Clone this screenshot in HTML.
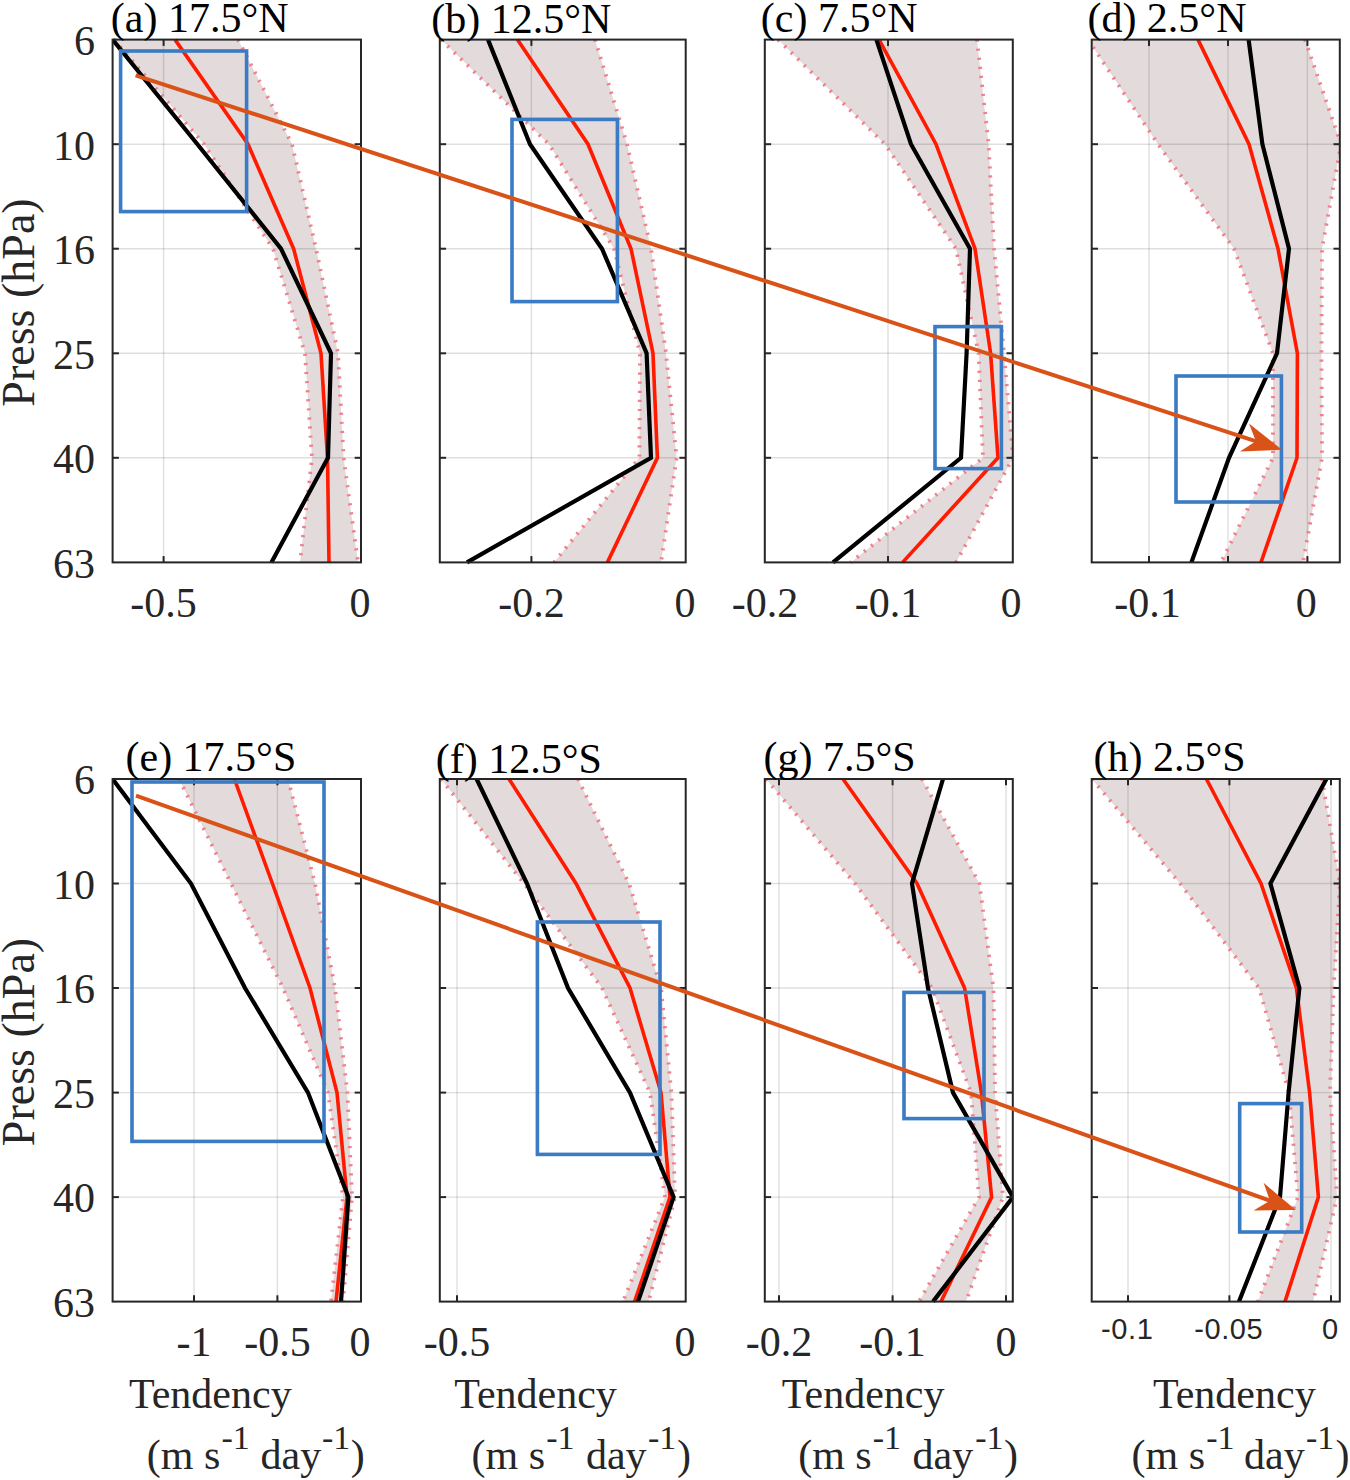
<!DOCTYPE html>
<html><head><meta charset="utf-8"><style>html,body{margin:0;padding:0;background:#fff;}svg{display:block;}</style></head><body>
<svg width="1350" height="1480" viewBox="0 0 1350 1480">
<rect width="1350" height="1480" fill="#fff"/>
<defs><clipPath id="ca"><rect x="112.1" y="36.6" width="249.4" height="528.8"/></clipPath><clipPath id="cb"><rect x="439.3" y="36.6" width="246.9" height="528.8"/></clipPath><clipPath id="cc"><rect x="764.3" y="36.6" width="249.0" height="528.8"/></clipPath><clipPath id="cd"><rect x="1091.2" y="36.6" width="249.1" height="528.8"/></clipPath><clipPath id="ce"><rect x="112.1" y="776.0" width="249.4" height="528.6"/></clipPath><clipPath id="cf"><rect x="439.3" y="776.0" width="246.9" height="528.6"/></clipPath><clipPath id="cg"><rect x="764.3" y="776.0" width="249.0" height="528.6"/></clipPath><clipPath id="ch"><rect x="1091.2" y="776.0" width="249.1" height="528.6"/></clipPath></defs>
<g clip-path="url(#ca)">
<polygon fill="#e2dadb" points="114.0,39.6 204.0,144.2 273.0,248.7 305.0,353.3 312.0,457.8 300.0,562.4 358.0,562.4 343.6,457.8 338.0,353.3 316.0,248.7 292.0,144.2 238.0,39.6"/>
<line x1="163.6" y1="39.6" x2="163.6" y2="562.4" stroke="rgba(38,38,38,0.15)" stroke-width="1.4"/>
<line x1="361.0" y1="39.6" x2="361.0" y2="562.4" stroke="rgba(38,38,38,0.15)" stroke-width="1.4"/>
<line x1="112.6" y1="144.2" x2="361.0" y2="144.2" stroke="rgba(38,38,38,0.15)" stroke-width="1.4"/>
<line x1="112.6" y1="248.7" x2="361.0" y2="248.7" stroke="rgba(38,38,38,0.15)" stroke-width="1.4"/>
<line x1="112.6" y1="353.3" x2="361.0" y2="353.3" stroke="rgba(38,38,38,0.15)" stroke-width="1.4"/>
<line x1="112.6" y1="457.8" x2="361.0" y2="457.8" stroke="rgba(38,38,38,0.15)" stroke-width="1.4"/>
<polyline fill="none" stroke="#f2808a" stroke-width="3.8" stroke-dasharray="2.2 6.9" points="114.0,39.6 204.0,144.2 273.0,248.7 305.0,353.3 312.0,457.8 300.0,562.4"/>
<polyline fill="none" stroke="#f2808a" stroke-width="3.8" stroke-dasharray="2.2 6.9" points="238.0,39.6 292.0,144.2 316.0,248.7 338.0,353.3 343.6,457.8 358.0,562.4"/>
<polyline fill="none" stroke="#ff1a00" stroke-width="3.6" stroke-linejoin="miter" points="175.0,39.6 248.0,144.2 293.6,248.7 321.0,353.3 327.5,457.8 329.0,562.4"/>
<polyline fill="none" stroke="#000" stroke-width="4.2" stroke-linejoin="miter" points="112.6,39.6 197.4,144.2 281.0,248.7 331.0,353.3 328.0,457.8 271.4,562.4"/>
</g>
<rect x="112.6" y="39.6" width="248.4" height="522.8" fill="none" stroke="#262626" stroke-width="2"/>
<line x1="112.6" y1="144.2" x2="118.9" y2="144.2" stroke="#262626" stroke-width="2"/>
<line x1="361.0" y1="144.2" x2="354.7" y2="144.2" stroke="#262626" stroke-width="2"/>
<line x1="112.6" y1="248.7" x2="118.9" y2="248.7" stroke="#262626" stroke-width="2"/>
<line x1="361.0" y1="248.7" x2="354.7" y2="248.7" stroke="#262626" stroke-width="2"/>
<line x1="112.6" y1="353.3" x2="118.9" y2="353.3" stroke="#262626" stroke-width="2"/>
<line x1="361.0" y1="353.3" x2="354.7" y2="353.3" stroke="#262626" stroke-width="2"/>
<line x1="112.6" y1="457.8" x2="118.9" y2="457.8" stroke="#262626" stroke-width="2"/>
<line x1="361.0" y1="457.8" x2="354.7" y2="457.8" stroke="#262626" stroke-width="2"/>
<line x1="163.6" y1="39.6" x2="163.6" y2="45.9" stroke="#262626" stroke-width="2"/>
<line x1="163.6" y1="562.4" x2="163.6" y2="556.1" stroke="#262626" stroke-width="2"/>
<rect x="120.6" y="51.0" width="126.0" height="160.6" fill="none" stroke="#3a7bc4" stroke-width="3.6"/>
<text x="163.6" y="616.7" font-family="Liberation Serif, serif" font-size="42" text-anchor="middle" fill="#262626">-0.5</text>
<text x="360.0" y="616.7" font-family="Liberation Serif, serif" font-size="42" text-anchor="middle" fill="#262626">0</text>
<g clip-path="url(#cb)">
<polygon fill="#e2dadb" points="441.0,39.6 549.0,144.2 614.0,248.7 640.0,353.3 639.4,457.8 554.0,562.4 661.0,562.4 676.6,457.8 666.0,353.3 651.0,248.7 627.0,144.2 595.0,39.6"/>
<line x1="531.4" y1="39.6" x2="531.4" y2="562.4" stroke="rgba(38,38,38,0.15)" stroke-width="1.4"/>
<line x1="685.7" y1="39.6" x2="685.7" y2="562.4" stroke="rgba(38,38,38,0.15)" stroke-width="1.4"/>
<line x1="439.8" y1="144.2" x2="685.7" y2="144.2" stroke="rgba(38,38,38,0.15)" stroke-width="1.4"/>
<line x1="439.8" y1="248.7" x2="685.7" y2="248.7" stroke="rgba(38,38,38,0.15)" stroke-width="1.4"/>
<line x1="439.8" y1="353.3" x2="685.7" y2="353.3" stroke="rgba(38,38,38,0.15)" stroke-width="1.4"/>
<line x1="439.8" y1="457.8" x2="685.7" y2="457.8" stroke="rgba(38,38,38,0.15)" stroke-width="1.4"/>
<polyline fill="none" stroke="#f2808a" stroke-width="3.8" stroke-dasharray="2.2 6.9" points="441.0,39.6 549.0,144.2 614.0,248.7 640.0,353.3 639.4,457.8 554.0,562.4"/>
<polyline fill="none" stroke="#f2808a" stroke-width="3.8" stroke-dasharray="2.2 6.9" points="595.0,39.6 627.0,144.2 651.0,248.7 666.0,353.3 676.6,457.8 661.0,562.4"/>
<polyline fill="none" stroke="#ff1a00" stroke-width="3.6" stroke-linejoin="miter" points="517.4,39.6 588.0,144.2 631.0,248.7 653.0,353.3 657.4,457.8 607.4,562.4"/>
<polyline fill="none" stroke="#000" stroke-width="4.2" stroke-linejoin="miter" points="488.0,39.6 530.0,144.2 602.0,248.7 646.6,353.3 651.0,457.8 467.0,562.4"/>
</g>
<rect x="439.8" y="39.6" width="245.9" height="522.8" fill="none" stroke="#262626" stroke-width="2"/>
<line x1="439.8" y1="144.2" x2="446.1" y2="144.2" stroke="#262626" stroke-width="2"/>
<line x1="685.7" y1="144.2" x2="679.4" y2="144.2" stroke="#262626" stroke-width="2"/>
<line x1="439.8" y1="248.7" x2="446.1" y2="248.7" stroke="#262626" stroke-width="2"/>
<line x1="685.7" y1="248.7" x2="679.4" y2="248.7" stroke="#262626" stroke-width="2"/>
<line x1="439.8" y1="353.3" x2="446.1" y2="353.3" stroke="#262626" stroke-width="2"/>
<line x1="685.7" y1="353.3" x2="679.4" y2="353.3" stroke="#262626" stroke-width="2"/>
<line x1="439.8" y1="457.8" x2="446.1" y2="457.8" stroke="#262626" stroke-width="2"/>
<line x1="685.7" y1="457.8" x2="679.4" y2="457.8" stroke="#262626" stroke-width="2"/>
<line x1="531.4" y1="39.6" x2="531.4" y2="45.9" stroke="#262626" stroke-width="2"/>
<line x1="531.4" y1="562.4" x2="531.4" y2="556.1" stroke="#262626" stroke-width="2"/>
<rect x="512" y="119.4" width="105.4" height="182.2" fill="none" stroke="#3a7bc4" stroke-width="3.6"/>
<text x="531.4" y="616.7" font-family="Liberation Serif, serif" font-size="42" text-anchor="middle" fill="#262626">-0.2</text>
<text x="685.0" y="616.7" font-family="Liberation Serif, serif" font-size="42" text-anchor="middle" fill="#262626">0</text>
<g clip-path="url(#cc)">
<polygon fill="#e2dadb" points="778.0,39.6 885.0,144.2 956.0,248.7 978.6,353.3 983.0,457.8 850.6,562.4 956.0,562.4 1013.0,457.8 1004.0,353.3 994.0,248.7 988.6,144.2 977.0,39.6"/>
<line x1="764.8" y1="39.6" x2="764.8" y2="562.4" stroke="rgba(38,38,38,0.15)" stroke-width="1.4"/>
<line x1="888" y1="39.6" x2="888" y2="562.4" stroke="rgba(38,38,38,0.15)" stroke-width="1.4"/>
<line x1="1012.8" y1="39.6" x2="1012.8" y2="562.4" stroke="rgba(38,38,38,0.15)" stroke-width="1.4"/>
<line x1="764.8" y1="144.2" x2="1012.8" y2="144.2" stroke="rgba(38,38,38,0.15)" stroke-width="1.4"/>
<line x1="764.8" y1="248.7" x2="1012.8" y2="248.7" stroke="rgba(38,38,38,0.15)" stroke-width="1.4"/>
<line x1="764.8" y1="353.3" x2="1012.8" y2="353.3" stroke="rgba(38,38,38,0.15)" stroke-width="1.4"/>
<line x1="764.8" y1="457.8" x2="1012.8" y2="457.8" stroke="rgba(38,38,38,0.15)" stroke-width="1.4"/>
<polyline fill="none" stroke="#f2808a" stroke-width="3.8" stroke-dasharray="2.2 6.9" points="778.0,39.6 885.0,144.2 956.0,248.7 978.6,353.3 983.0,457.8 850.6,562.4"/>
<polyline fill="none" stroke="#f2808a" stroke-width="3.8" stroke-dasharray="2.2 6.9" points="977.0,39.6 988.6,144.2 994.0,248.7 1004.0,353.3 1013.0,457.8 956.0,562.4"/>
<polyline fill="none" stroke="#ff1a00" stroke-width="3.6" stroke-linejoin="miter" points="879.0,39.6 936.0,144.2 975.0,248.7 990.6,353.3 998.0,457.8 902.6,562.4"/>
<polyline fill="none" stroke="#000" stroke-width="4.2" stroke-linejoin="miter" points="876.4,39.6 911.0,144.2 970.0,248.7 966.6,353.3 961.0,457.8 833.0,562.4"/>
</g>
<rect x="764.8" y="39.6" width="248.0" height="522.8" fill="none" stroke="#262626" stroke-width="2"/>
<line x1="764.8" y1="144.2" x2="771.1" y2="144.2" stroke="#262626" stroke-width="2"/>
<line x1="1012.8" y1="144.2" x2="1006.5" y2="144.2" stroke="#262626" stroke-width="2"/>
<line x1="764.8" y1="248.7" x2="771.1" y2="248.7" stroke="#262626" stroke-width="2"/>
<line x1="1012.8" y1="248.7" x2="1006.5" y2="248.7" stroke="#262626" stroke-width="2"/>
<line x1="764.8" y1="353.3" x2="771.1" y2="353.3" stroke="#262626" stroke-width="2"/>
<line x1="1012.8" y1="353.3" x2="1006.5" y2="353.3" stroke="#262626" stroke-width="2"/>
<line x1="764.8" y1="457.8" x2="771.1" y2="457.8" stroke="#262626" stroke-width="2"/>
<line x1="1012.8" y1="457.8" x2="1006.5" y2="457.8" stroke="#262626" stroke-width="2"/>
<line x1="888" y1="39.6" x2="888" y2="45.9" stroke="#262626" stroke-width="2"/>
<line x1="888" y1="562.4" x2="888" y2="556.1" stroke="#262626" stroke-width="2"/>
<rect x="935" y="326.6" width="66.4" height="142.0" fill="none" stroke="#3a7bc4" stroke-width="3.6"/>
<text x="765" y="616.7" font-family="Liberation Serif, serif" font-size="42" text-anchor="middle" fill="#262626">-0.2</text>
<text x="888" y="616.7" font-family="Liberation Serif, serif" font-size="42" text-anchor="middle" fill="#262626">-0.1</text>
<text x="1011" y="616.7" font-family="Liberation Serif, serif" font-size="42" text-anchor="middle" fill="#262626">0</text>
<g clip-path="url(#cd)">
<polygon fill="#e2dadb" points="1088.0,39.6 1158.0,144.2 1234.0,248.7 1273.0,353.3 1273.0,457.8 1221.0,562.4 1303.0,562.4 1322.0,457.8 1321.4,353.3 1322.0,248.7 1341.0,144.2 1305.0,39.6"/>
<line x1="1149" y1="39.6" x2="1149" y2="562.4" stroke="rgba(38,38,38,0.15)" stroke-width="1.4"/>
<line x1="1228" y1="39.6" x2="1228" y2="562.4" stroke="rgba(38,38,38,0.15)" stroke-width="1.4"/>
<line x1="1307.4" y1="39.6" x2="1307.4" y2="562.4" stroke="rgba(38,38,38,0.15)" stroke-width="1.4"/>
<line x1="1091.7" y1="144.2" x2="1339.8" y2="144.2" stroke="rgba(38,38,38,0.15)" stroke-width="1.4"/>
<line x1="1091.7" y1="248.7" x2="1339.8" y2="248.7" stroke="rgba(38,38,38,0.15)" stroke-width="1.4"/>
<line x1="1091.7" y1="353.3" x2="1339.8" y2="353.3" stroke="rgba(38,38,38,0.15)" stroke-width="1.4"/>
<line x1="1091.7" y1="457.8" x2="1339.8" y2="457.8" stroke="rgba(38,38,38,0.15)" stroke-width="1.4"/>
<polyline fill="none" stroke="#f2808a" stroke-width="3.8" stroke-dasharray="2.2 6.9" points="1088.0,39.6 1158.0,144.2 1234.0,248.7 1273.0,353.3 1273.0,457.8 1221.0,562.4"/>
<polyline fill="none" stroke="#f2808a" stroke-width="3.8" stroke-dasharray="2.2 6.9" points="1305.0,39.6 1341.0,144.2 1322.0,248.7 1321.4,353.3 1322.0,457.8 1303.0,562.4"/>
<polyline fill="none" stroke="#ff1a00" stroke-width="3.6" stroke-linejoin="miter" points="1198.0,39.6 1249.0,144.2 1278.0,248.7 1297.4,353.3 1297.0,457.8 1261.0,562.4"/>
<polyline fill="none" stroke="#000" stroke-width="4.2" stroke-linejoin="miter" points="1248.6,39.6 1262.4,144.2 1289.0,248.7 1277.0,353.3 1229.0,457.8 1191.4,562.4"/>
</g>
<rect x="1091.7" y="39.6" width="248.1" height="522.8" fill="none" stroke="#262626" stroke-width="2"/>
<line x1="1091.7" y1="144.2" x2="1098.0" y2="144.2" stroke="#262626" stroke-width="2"/>
<line x1="1339.8" y1="144.2" x2="1333.5" y2="144.2" stroke="#262626" stroke-width="2"/>
<line x1="1091.7" y1="248.7" x2="1098.0" y2="248.7" stroke="#262626" stroke-width="2"/>
<line x1="1339.8" y1="248.7" x2="1333.5" y2="248.7" stroke="#262626" stroke-width="2"/>
<line x1="1091.7" y1="353.3" x2="1098.0" y2="353.3" stroke="#262626" stroke-width="2"/>
<line x1="1339.8" y1="353.3" x2="1333.5" y2="353.3" stroke="#262626" stroke-width="2"/>
<line x1="1091.7" y1="457.8" x2="1098.0" y2="457.8" stroke="#262626" stroke-width="2"/>
<line x1="1339.8" y1="457.8" x2="1333.5" y2="457.8" stroke="#262626" stroke-width="2"/>
<line x1="1149" y1="39.6" x2="1149" y2="45.9" stroke="#262626" stroke-width="2"/>
<line x1="1149" y1="562.4" x2="1149" y2="556.1" stroke="#262626" stroke-width="2"/>
<line x1="1228" y1="39.6" x2="1228" y2="45.9" stroke="#262626" stroke-width="2"/>
<line x1="1228" y1="562.4" x2="1228" y2="556.1" stroke="#262626" stroke-width="2"/>
<line x1="1307.4" y1="39.6" x2="1307.4" y2="45.9" stroke="#262626" stroke-width="2"/>
<line x1="1307.4" y1="562.4" x2="1307.4" y2="556.1" stroke="#262626" stroke-width="2"/>
<rect x="1176" y="376" width="105.4" height="126.0" fill="none" stroke="#3a7bc4" stroke-width="3.6"/>
<text x="1147.5" y="616.7" font-family="Liberation Serif, serif" font-size="42" text-anchor="middle" fill="#262626">-0.1</text>
<text x="1306.2" y="616.7" font-family="Liberation Serif, serif" font-size="42" text-anchor="middle" fill="#262626">0</text>
<g clip-path="url(#ce)">
<polygon fill="#e2dadb" points="179.0,779.0 231.0,883.5 283.0,988.0 328.0,1092.6 343.0,1197.1 331.0,1301.6 343.0,1301.6 352.0,1197.1 347.4,1092.6 335.0,988.0 315.0,883.5 288.0,779.0"/>
<line x1="194" y1="779.0" x2="194" y2="1301.6" stroke="rgba(38,38,38,0.15)" stroke-width="1.4"/>
<line x1="277.4" y1="779.0" x2="277.4" y2="1301.6" stroke="rgba(38,38,38,0.15)" stroke-width="1.4"/>
<line x1="361.0" y1="779.0" x2="361.0" y2="1301.6" stroke="rgba(38,38,38,0.15)" stroke-width="1.4"/>
<line x1="112.6" y1="883.5" x2="361.0" y2="883.5" stroke="rgba(38,38,38,0.15)" stroke-width="1.4"/>
<line x1="112.6" y1="988.0" x2="361.0" y2="988.0" stroke="rgba(38,38,38,0.15)" stroke-width="1.4"/>
<line x1="112.6" y1="1092.6" x2="361.0" y2="1092.6" stroke="rgba(38,38,38,0.15)" stroke-width="1.4"/>
<line x1="112.6" y1="1197.1" x2="361.0" y2="1197.1" stroke="rgba(38,38,38,0.15)" stroke-width="1.4"/>
<polyline fill="none" stroke="#f2808a" stroke-width="3.8" stroke-dasharray="2.2 6.9" points="179.0,779.0 231.0,883.5 283.0,988.0 328.0,1092.6 343.0,1197.1 331.0,1301.6"/>
<polyline fill="none" stroke="#f2808a" stroke-width="3.8" stroke-dasharray="2.2 6.9" points="288.0,779.0 315.0,883.5 335.0,988.0 347.4,1092.6 352.0,1197.1 343.0,1301.6"/>
<polyline fill="none" stroke="#ff1a00" stroke-width="3.6" stroke-linejoin="miter" points="234.4,779.0 272.4,883.5 310.0,988.0 337.0,1092.6 347.0,1197.1 336.0,1301.6"/>
<polyline fill="none" stroke="#000" stroke-width="4.2" stroke-linejoin="miter" points="112.6,779.0 191.0,883.5 245.0,988.0 308.0,1092.6 348.4,1197.1 341.0,1301.6"/>
</g>
<rect x="112.6" y="779.0" width="248.4" height="522.6" fill="none" stroke="#262626" stroke-width="2"/>
<line x1="112.6" y1="883.5" x2="118.9" y2="883.5" stroke="#262626" stroke-width="2"/>
<line x1="361.0" y1="883.5" x2="354.7" y2="883.5" stroke="#262626" stroke-width="2"/>
<line x1="112.6" y1="988.0" x2="118.9" y2="988.0" stroke="#262626" stroke-width="2"/>
<line x1="361.0" y1="988.0" x2="354.7" y2="988.0" stroke="#262626" stroke-width="2"/>
<line x1="112.6" y1="1092.6" x2="118.9" y2="1092.6" stroke="#262626" stroke-width="2"/>
<line x1="361.0" y1="1092.6" x2="354.7" y2="1092.6" stroke="#262626" stroke-width="2"/>
<line x1="112.6" y1="1197.1" x2="118.9" y2="1197.1" stroke="#262626" stroke-width="2"/>
<line x1="361.0" y1="1197.1" x2="354.7" y2="1197.1" stroke="#262626" stroke-width="2"/>
<line x1="194" y1="779.0" x2="194" y2="785.3" stroke="#262626" stroke-width="2"/>
<line x1="194" y1="1301.6" x2="194" y2="1295.3" stroke="#262626" stroke-width="2"/>
<line x1="277.4" y1="779.0" x2="277.4" y2="785.3" stroke="#262626" stroke-width="2"/>
<line x1="277.4" y1="1301.6" x2="277.4" y2="1295.3" stroke="#262626" stroke-width="2"/>
<rect x="132" y="782" width="192.0" height="359.4" fill="none" stroke="#3a7bc4" stroke-width="3.6"/>
<text x="194" y="1355.9" font-family="Liberation Serif, serif" font-size="42" text-anchor="middle" fill="#262626">-1</text>
<text x="277.4" y="1355.9" font-family="Liberation Serif, serif" font-size="42" text-anchor="middle" fill="#262626">-0.5</text>
<text x="360.0" y="1355.9" font-family="Liberation Serif, serif" font-size="42" text-anchor="middle" fill="#262626">0</text>
<g clip-path="url(#cf)">
<polygon fill="#e2dadb" points="441.0,779.0 524.0,883.5 602.0,988.0 650.0,1092.6 665.0,1197.1 623.0,1301.6 648.6,1301.6 675.0,1197.1 671.4,1092.6 661.0,988.0 629.0,883.5 578.0,779.0"/>
<line x1="457" y1="779.0" x2="457" y2="1301.6" stroke="rgba(38,38,38,0.15)" stroke-width="1.4"/>
<line x1="685.7" y1="779.0" x2="685.7" y2="1301.6" stroke="rgba(38,38,38,0.15)" stroke-width="1.4"/>
<line x1="439.8" y1="883.5" x2="685.7" y2="883.5" stroke="rgba(38,38,38,0.15)" stroke-width="1.4"/>
<line x1="439.8" y1="988.0" x2="685.7" y2="988.0" stroke="rgba(38,38,38,0.15)" stroke-width="1.4"/>
<line x1="439.8" y1="1092.6" x2="685.7" y2="1092.6" stroke="rgba(38,38,38,0.15)" stroke-width="1.4"/>
<line x1="439.8" y1="1197.1" x2="685.7" y2="1197.1" stroke="rgba(38,38,38,0.15)" stroke-width="1.4"/>
<polyline fill="none" stroke="#f2808a" stroke-width="3.8" stroke-dasharray="2.2 6.9" points="441.0,779.0 524.0,883.5 602.0,988.0 650.0,1092.6 665.0,1197.1 623.0,1301.6"/>
<polyline fill="none" stroke="#f2808a" stroke-width="3.8" stroke-dasharray="2.2 6.9" points="578.0,779.0 629.0,883.5 661.0,988.0 671.4,1092.6 675.0,1197.1 648.6,1301.6"/>
<polyline fill="none" stroke="#ff1a00" stroke-width="3.6" stroke-linejoin="miter" points="509.0,779.0 576.0,883.5 630.0,988.0 661.0,1092.6 670.0,1197.1 634.6,1301.6"/>
<polyline fill="none" stroke="#000" stroke-width="4.2" stroke-linejoin="miter" points="476.6,779.0 527.0,883.5 568.0,988.0 630.0,1092.6 673.6,1197.1 638.0,1301.6"/>
</g>
<rect x="439.8" y="779.0" width="245.9" height="522.6" fill="none" stroke="#262626" stroke-width="2"/>
<line x1="439.8" y1="883.5" x2="446.1" y2="883.5" stroke="#262626" stroke-width="2"/>
<line x1="685.7" y1="883.5" x2="679.4" y2="883.5" stroke="#262626" stroke-width="2"/>
<line x1="439.8" y1="988.0" x2="446.1" y2="988.0" stroke="#262626" stroke-width="2"/>
<line x1="685.7" y1="988.0" x2="679.4" y2="988.0" stroke="#262626" stroke-width="2"/>
<line x1="439.8" y1="1092.6" x2="446.1" y2="1092.6" stroke="#262626" stroke-width="2"/>
<line x1="685.7" y1="1092.6" x2="679.4" y2="1092.6" stroke="#262626" stroke-width="2"/>
<line x1="439.8" y1="1197.1" x2="446.1" y2="1197.1" stroke="#262626" stroke-width="2"/>
<line x1="685.7" y1="1197.1" x2="679.4" y2="1197.1" stroke="#262626" stroke-width="2"/>
<line x1="457" y1="779.0" x2="457" y2="785.3" stroke="#262626" stroke-width="2"/>
<line x1="457" y1="1301.6" x2="457" y2="1295.3" stroke="#262626" stroke-width="2"/>
<rect x="537.4" y="922" width="122.6" height="232.4" fill="none" stroke="#3a7bc4" stroke-width="3.6"/>
<text x="457" y="1355.9" font-family="Liberation Serif, serif" font-size="42" text-anchor="middle" fill="#262626">-0.5</text>
<text x="685.0" y="1355.9" font-family="Liberation Serif, serif" font-size="42" text-anchor="middle" fill="#262626">0</text>
<g clip-path="url(#cg)">
<polygon fill="#e2dadb" points="766.0,779.0 855.0,883.5 932.0,988.0 971.0,1092.6 979.0,1197.1 919.0,1301.6 966.0,1301.6 1003.0,1197.1 995.0,1092.6 993.4,988.0 979.4,883.5 922.0,779.0"/>
<line x1="779" y1="779.0" x2="779" y2="1301.6" stroke="rgba(38,38,38,0.15)" stroke-width="1.4"/>
<line x1="892.6" y1="779.0" x2="892.6" y2="1301.6" stroke="rgba(38,38,38,0.15)" stroke-width="1.4"/>
<line x1="1006" y1="779.0" x2="1006" y2="1301.6" stroke="rgba(38,38,38,0.15)" stroke-width="1.4"/>
<line x1="764.8" y1="883.5" x2="1012.8" y2="883.5" stroke="rgba(38,38,38,0.15)" stroke-width="1.4"/>
<line x1="764.8" y1="988.0" x2="1012.8" y2="988.0" stroke="rgba(38,38,38,0.15)" stroke-width="1.4"/>
<line x1="764.8" y1="1092.6" x2="1012.8" y2="1092.6" stroke="rgba(38,38,38,0.15)" stroke-width="1.4"/>
<line x1="764.8" y1="1197.1" x2="1012.8" y2="1197.1" stroke="rgba(38,38,38,0.15)" stroke-width="1.4"/>
<polyline fill="none" stroke="#f2808a" stroke-width="3.8" stroke-dasharray="2.2 6.9" points="766.0,779.0 855.0,883.5 932.0,988.0 971.0,1092.6 979.0,1197.1 919.0,1301.6"/>
<polyline fill="none" stroke="#f2808a" stroke-width="3.8" stroke-dasharray="2.2 6.9" points="922.0,779.0 979.4,883.5 993.4,988.0 995.0,1092.6 1003.0,1197.1 966.0,1301.6"/>
<polyline fill="none" stroke="#ff1a00" stroke-width="3.6" stroke-linejoin="miter" points="843.0,779.0 917.0,883.5 964.6,988.0 981.4,1092.6 991.6,1197.1 941.0,1301.6"/>
<polyline fill="none" stroke="#000" stroke-width="4.2" stroke-linejoin="miter" points="943.0,779.0 912.0,883.5 928.0,988.0 953.0,1092.6 1013.0,1197.1 933.0,1301.6"/>
</g>
<rect x="764.8" y="779.0" width="248.0" height="522.6" fill="none" stroke="#262626" stroke-width="2"/>
<line x1="764.8" y1="883.5" x2="771.1" y2="883.5" stroke="#262626" stroke-width="2"/>
<line x1="1012.8" y1="883.5" x2="1006.5" y2="883.5" stroke="#262626" stroke-width="2"/>
<line x1="764.8" y1="988.0" x2="771.1" y2="988.0" stroke="#262626" stroke-width="2"/>
<line x1="1012.8" y1="988.0" x2="1006.5" y2="988.0" stroke="#262626" stroke-width="2"/>
<line x1="764.8" y1="1092.6" x2="771.1" y2="1092.6" stroke="#262626" stroke-width="2"/>
<line x1="1012.8" y1="1092.6" x2="1006.5" y2="1092.6" stroke="#262626" stroke-width="2"/>
<line x1="764.8" y1="1197.1" x2="771.1" y2="1197.1" stroke="#262626" stroke-width="2"/>
<line x1="1012.8" y1="1197.1" x2="1006.5" y2="1197.1" stroke="#262626" stroke-width="2"/>
<line x1="779" y1="779.0" x2="779" y2="785.3" stroke="#262626" stroke-width="2"/>
<line x1="779" y1="1301.6" x2="779" y2="1295.3" stroke="#262626" stroke-width="2"/>
<line x1="892.6" y1="779.0" x2="892.6" y2="785.3" stroke="#262626" stroke-width="2"/>
<line x1="892.6" y1="1301.6" x2="892.6" y2="1295.3" stroke="#262626" stroke-width="2"/>
<line x1="1006" y1="779.0" x2="1006" y2="785.3" stroke="#262626" stroke-width="2"/>
<line x1="1006" y1="1301.6" x2="1006" y2="1295.3" stroke="#262626" stroke-width="2"/>
<rect x="904" y="992.4" width="80.0" height="126.2" fill="none" stroke="#3a7bc4" stroke-width="3.6"/>
<text x="779" y="1355.9" font-family="Liberation Serif, serif" font-size="42" text-anchor="middle" fill="#262626">-0.2</text>
<text x="892.6" y="1355.9" font-family="Liberation Serif, serif" font-size="42" text-anchor="middle" fill="#262626">-0.1</text>
<text x="1006" y="1355.9" font-family="Liberation Serif, serif" font-size="42" text-anchor="middle" fill="#262626">0</text>
<g clip-path="url(#ch)">
<polygon fill="#e2dadb" points="1092.0,779.0 1180.0,883.5 1259.0,988.0 1289.0,1092.6 1298.0,1197.1 1258.0,1301.6 1313.0,1301.6 1337.0,1197.1 1330.0,1092.6 1333.6,988.0 1340.0,883.5 1322.0,779.0"/>
<line x1="1128" y1="779.0" x2="1128" y2="1301.6" stroke="rgba(38,38,38,0.15)" stroke-width="1.4"/>
<line x1="1229.4" y1="779.0" x2="1229.4" y2="1301.6" stroke="rgba(38,38,38,0.15)" stroke-width="1.4"/>
<line x1="1331" y1="779.0" x2="1331" y2="1301.6" stroke="rgba(38,38,38,0.15)" stroke-width="1.4"/>
<line x1="1091.7" y1="883.5" x2="1339.8" y2="883.5" stroke="rgba(38,38,38,0.15)" stroke-width="1.4"/>
<line x1="1091.7" y1="988.0" x2="1339.8" y2="988.0" stroke="rgba(38,38,38,0.15)" stroke-width="1.4"/>
<line x1="1091.7" y1="1092.6" x2="1339.8" y2="1092.6" stroke="rgba(38,38,38,0.15)" stroke-width="1.4"/>
<line x1="1091.7" y1="1197.1" x2="1339.8" y2="1197.1" stroke="rgba(38,38,38,0.15)" stroke-width="1.4"/>
<polyline fill="none" stroke="#f2808a" stroke-width="3.8" stroke-dasharray="2.2 6.9" points="1092.0,779.0 1180.0,883.5 1259.0,988.0 1289.0,1092.6 1298.0,1197.1 1258.0,1301.6"/>
<polyline fill="none" stroke="#f2808a" stroke-width="3.8" stroke-dasharray="2.2 6.9" points="1322.0,779.0 1340.0,883.5 1333.6,988.0 1330.0,1092.6 1337.0,1197.1 1313.0,1301.6"/>
<polyline fill="none" stroke="#ff1a00" stroke-width="3.6" stroke-linejoin="miter" points="1206.4,779.0 1261.0,883.5 1296.4,988.0 1309.6,1092.6 1318.4,1197.1 1285.0,1301.6"/>
<polyline fill="none" stroke="#000" stroke-width="4.2" stroke-linejoin="miter" points="1326.4,779.0 1270.4,883.5 1299.4,988.0 1288.6,1092.6 1280.0,1197.1 1239.0,1301.6"/>
</g>
<rect x="1091.7" y="779.0" width="248.1" height="522.6" fill="none" stroke="#262626" stroke-width="2"/>
<line x1="1091.7" y1="883.5" x2="1098.0" y2="883.5" stroke="#262626" stroke-width="2"/>
<line x1="1339.8" y1="883.5" x2="1333.5" y2="883.5" stroke="#262626" stroke-width="2"/>
<line x1="1091.7" y1="988.0" x2="1098.0" y2="988.0" stroke="#262626" stroke-width="2"/>
<line x1="1339.8" y1="988.0" x2="1333.5" y2="988.0" stroke="#262626" stroke-width="2"/>
<line x1="1091.7" y1="1092.6" x2="1098.0" y2="1092.6" stroke="#262626" stroke-width="2"/>
<line x1="1339.8" y1="1092.6" x2="1333.5" y2="1092.6" stroke="#262626" stroke-width="2"/>
<line x1="1091.7" y1="1197.1" x2="1098.0" y2="1197.1" stroke="#262626" stroke-width="2"/>
<line x1="1339.8" y1="1197.1" x2="1333.5" y2="1197.1" stroke="#262626" stroke-width="2"/>
<line x1="1128" y1="779.0" x2="1128" y2="785.3" stroke="#262626" stroke-width="2"/>
<line x1="1128" y1="1301.6" x2="1128" y2="1295.3" stroke="#262626" stroke-width="2"/>
<line x1="1229.4" y1="779.0" x2="1229.4" y2="785.3" stroke="#262626" stroke-width="2"/>
<line x1="1229.4" y1="1301.6" x2="1229.4" y2="1295.3" stroke="#262626" stroke-width="2"/>
<line x1="1331" y1="779.0" x2="1331" y2="785.3" stroke="#262626" stroke-width="2"/>
<line x1="1331" y1="1301.6" x2="1331" y2="1295.3" stroke="#262626" stroke-width="2"/>
<rect x="1239.7" y="1103.6" width="62.0" height="128.4" fill="none" stroke="#3a7bc4" stroke-width="3.6"/>
<text x="1127.3" y="1339" font-family="Liberation Sans, sans-serif" font-size="29" letter-spacing="0.6" text-anchor="middle" fill="#262626">-0.1</text>
<text x="1228.7" y="1339" font-family="Liberation Sans, sans-serif" font-size="29" letter-spacing="0.6" text-anchor="middle" fill="#262626">-0.05</text>
<text x="1330.3" y="1339" font-family="Liberation Sans, sans-serif" font-size="29" letter-spacing="0.6" text-anchor="middle" fill="#262626">0</text>
<text x="95" y="54.9" font-family="Liberation Serif, serif" font-size="42" text-anchor="end" fill="#262626">6</text>
<text x="95" y="159.5" font-family="Liberation Serif, serif" font-size="42" text-anchor="end" fill="#262626">10</text>
<text x="95" y="264.0" font-family="Liberation Serif, serif" font-size="42" text-anchor="end" fill="#262626">16</text>
<text x="95" y="368.6" font-family="Liberation Serif, serif" font-size="42" text-anchor="end" fill="#262626">25</text>
<text x="95" y="473.1" font-family="Liberation Serif, serif" font-size="42" text-anchor="end" fill="#262626">40</text>
<text x="95" y="577.7" font-family="Liberation Serif, serif" font-size="42" text-anchor="end" fill="#262626">63</text>
<text transform="translate(34,302.5) rotate(-90)" font-family="Liberation Serif, serif" font-size="46" text-anchor="middle" fill="#262626">Press (hPa)</text>
<text x="95" y="794.3" font-family="Liberation Serif, serif" font-size="42" text-anchor="end" fill="#262626">6</text>
<text x="95" y="898.8" font-family="Liberation Serif, serif" font-size="42" text-anchor="end" fill="#262626">10</text>
<text x="95" y="1003.3" font-family="Liberation Serif, serif" font-size="42" text-anchor="end" fill="#262626">16</text>
<text x="95" y="1107.9" font-family="Liberation Serif, serif" font-size="42" text-anchor="end" fill="#262626">25</text>
<text x="95" y="1212.4" font-family="Liberation Serif, serif" font-size="42" text-anchor="end" fill="#262626">40</text>
<text x="95" y="1316.9" font-family="Liberation Serif, serif" font-size="42" text-anchor="end" fill="#262626">63</text>
<text transform="translate(34,1042.0) rotate(-90)" font-family="Liberation Serif, serif" font-size="46" text-anchor="middle" fill="#262626">Press (hPa)</text>
<text x="110.8" y="32.0" font-family="Liberation Serif, serif" font-size="42" fill="#000">(a) 17.5°N</text>
<text x="431.3" y="33.3" font-family="Liberation Serif, serif" font-size="42" fill="#000">(b) 12.5°N</text>
<text x="760.8" y="32.0" font-family="Liberation Serif, serif" font-size="42" fill="#000">(c) 7.5°N</text>
<text x="1087.4" y="31.5" font-family="Liberation Serif, serif" font-size="42" fill="#000">(d) 2.5°N</text>
<text x="125.5" y="771.0" font-family="Liberation Serif, serif" font-size="42" fill="#000">(e) 17.5°S</text>
<text x="435.8" y="773.0" font-family="Liberation Serif, serif" font-size="42" fill="#000">(f) 12.5°S</text>
<text x="763.6" y="771.0" font-family="Liberation Serif, serif" font-size="42" fill="#000">(g) 7.5°S</text>
<text x="1093.6" y="770.5" font-family="Liberation Serif, serif" font-size="42" fill="#000">(h) 2.5°S</text>
<text x="129.0" y="1408" font-family="Liberation Serif, serif" font-size="42" fill="#262626">Tendency</text>
<text y="1469" font-family="Liberation Serif, serif" font-size="42" fill="#262626"><tspan x="146.8">(m s</tspan><tspan x="221.4" y="1449" font-size="34">-1</tspan><tspan x="260.6" y="1469">day</tspan><tspan x="321.9" y="1449" font-size="34">-1</tspan><tspan x="350.8" y="1469">)</tspan></text>
<text x="454.2" y="1408" font-family="Liberation Serif, serif" font-size="42" fill="#262626">Tendency</text>
<text y="1469" font-family="Liberation Serif, serif" font-size="42" fill="#262626"><tspan x="471.6">(m s</tspan><tspan x="546.2" y="1449" font-size="34">-1</tspan><tspan x="585.9" y="1469">day</tspan><tspan x="648.0" y="1449" font-size="34">-1</tspan><tspan x="677.0" y="1469">)</tspan></text>
<text x="781.8" y="1408" font-family="Liberation Serif, serif" font-size="42" fill="#262626">Tendency</text>
<text y="1469" font-family="Liberation Serif, serif" font-size="42" fill="#262626"><tspan x="798.2">(m s</tspan><tspan x="872.8" y="1449" font-size="34">-1</tspan><tspan x="912.5" y="1469">day</tspan><tspan x="975.3" y="1449" font-size="34">-1</tspan><tspan x="1003.9" y="1469">)</tspan></text>
<text x="1153.0" y="1408" font-family="Liberation Serif, serif" font-size="42" fill="#262626">Tendency</text>
<text y="1469" font-family="Liberation Serif, serif" font-size="42" fill="#262626"><tspan x="1131.6">(m s</tspan><tspan x="1206.2" y="1449" font-size="34">-1</tspan><tspan x="1244.1" y="1469">day</tspan><tspan x="1306.0" y="1449" font-size="34">-1</tspan><tspan x="1335.6" y="1469">)</tspan></text>
<line x1="135.6" y1="75.3" x2="1257.8" y2="441.8" stroke="#d95319" stroke-width="4.0"/>
<polygon fill="#d95319" points="1282.0,449.7 1239.9,451.5 1255.9,441.2 1249.0,423.4"/>
<line x1="136.0" y1="795.6" x2="1271.8" y2="1201.4" stroke="#d95319" stroke-width="4.0"/>
<polygon fill="#d95319" points="1295.8,1210.0 1253.6,1210.6 1269.9,1200.7 1263.6,1182.8"/>
</svg></body></html>
